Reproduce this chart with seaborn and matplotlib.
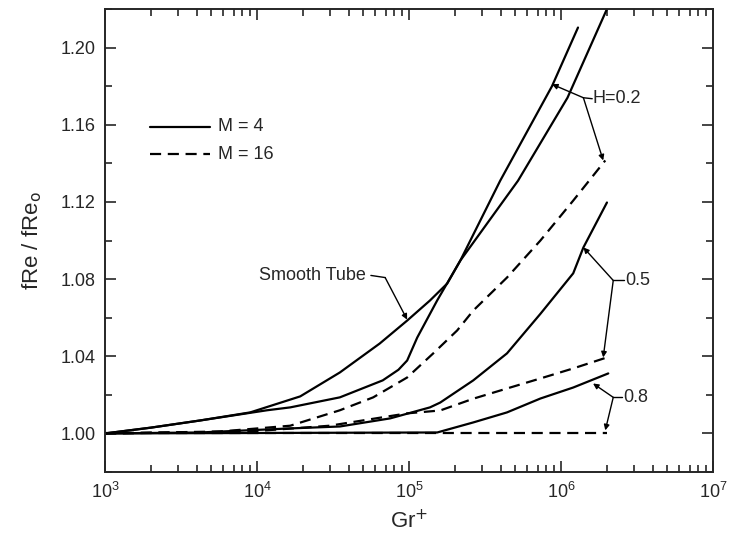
import numpy as np
import pandas as pd
import seaborn as sns
import matplotlib.pyplot as plt
from matplotlib.ticker import LogLocator, MultipleLocator

# curve data (x = Gr+, y = fRe/fRe0)
smooth_x = [1e3, 2.0e3, 4.2e3, 9.0e3, 1.92e4, 3.5e4, 6.4e4, 9.7e4, 1.37e5, 1.78e5, 2.17e5, 5.2e5, 1.1e6, 2.0e6]
smooth_y = [1.000, 1.003, 1.0067, 1.0109, 1.0192, 1.0316, 1.0466, 1.0585, 1.0689, 1.0777, 1.0896, 1.131, 1.174, 1.220]

h02_m4_x = [1e3, 2.0e3, 4.2e3, 1.16e4, 1.65e4, 3.5e4, 6.7e4, 8.5e4, 9.7e4, 1.13e5, 1.53e5, 2.17e5, 3.97e5, 8.7e5, 1.29e6]
h02_m4_y = [1.000, 1.003, 1.0067, 1.012, 1.0135, 1.0187, 1.0275, 1.033, 1.0378, 1.0497, 1.069, 1.0896, 1.131, 1.180, 1.2104]

h02_m16_x = [1e3, 5.7e3, 1.65e4, 3.5e4, 5.8e4, 9.7e4, 1.44e5, 2.07e5, 2.64e5, 4.4e5, 7.3e5, 1.2e6, 1.95e6]
h02_m16_y = [1.000, 1.001, 1.004, 1.012, 1.0187, 1.029, 1.0415, 1.0534, 1.0637, 1.0808, 1.100, 1.1207, 1.1415]

h05_m4_x = [1e3, 4.2e3, 1.65e4, 3.5e4, 7.5e4, 1.37e5, 1.6e5, 2.64e5, 4.4e5, 7.3e5, 1.2e6, 1.4e6, 2.0e6]
h05_m4_y = [1.000, 1.0005, 1.0026, 1.0036, 1.0078, 1.0135, 1.016, 1.0275, 1.0415, 1.062, 1.083, 1.0964, 1.1197]

h05_m16_x = [1e3, 9.0e3, 3.0e4, 9.7e4, 1.6e5, 2.64e5, 4.4e5, 7.3e5, 1.2e6, 2.0e6]
h05_m16_y = [1.000, 1.001, 1.004, 1.0104, 1.0119, 1.018, 1.0233, 1.0285, 1.0337, 1.0394]

h08_m4_x = [1e3, 1.53e5, 2.64e5, 4.4e5, 7.3e5, 1.2e6, 2.04e6]
h08_m4_y = [1.000, 1.0005, 1.0057, 1.0109, 1.0181, 1.0238, 1.0311]

h08_m16_x = [1e3, 2.0e6]
h08_m16_y = [1.000, 1.000]

sns.set_style("ticks")
plt.rcParams['font.family'] = ['Liberation Sans', 'DejaVu Sans']

fig = plt.figure(figsize=(7.3, 5.46), dpi=100)
ax = fig.add_axes([0.144, 0.1355, 0.833, 0.848])

curves = [
    (smooth_x, smooth_y, '-'),
    (h02_m4_x, h02_m4_y, '-'),
    (h02_m16_x, h02_m16_y, '--'),
    (h05_m4_x, h05_m4_y, '-'),
    (h05_m16_x, h05_m16_y, '--'),
    (h08_m4_x, h08_m4_y, '-'),
    (h08_m16_x, h08_m16_y, '--'),
]
for xs, ys, ls in curves:
    d = pd.DataFrame({'x': xs, 'y': ys})
    sns.lineplot(data=d, x='x', y='y', ax=ax, color='black', linewidth=1.6,
                 linestyle=ls, sort=False, estimator=None)
for l in ax.get_lines():
    if l.get_linestyle() == '--':
        l.set_dashes((5, 3))

ax.set_xscale('log')
ax.set_xlim(1e3, 1e7)
ax.set_ylim(0.98, 1.22)
ax.set_yticks([1.00, 1.04, 1.08, 1.12, 1.16, 1.20])
ax.set_yticklabels(['1.00', '1.04', '1.08', '1.12', '1.16', '1.20'])
ax.yaxis.set_minor_locator(MultipleLocator(0.02))
ax.xaxis.set_minor_locator(LogLocator(base=10, subs=np.arange(2, 10), numticks=20))
ax.tick_params(which='both', direction='in', top=True, right=True, width=1.2, labelsize=13)
ax.tick_params(which='major', length=8, pad=7)
ax.tick_params(which='minor', length=5)
for s in ax.spines.values():
    s.set_linewidth(1.4)

ax.set_xlabel('Gr$^{+}$', fontsize=16, labelpad=6)
ax.set_ylabel('fRe / fRe$_{\\mathrm{o}}$', fontsize=16, labelpad=12)

# legend drawn as in the original
ax.plot([1.98e3, 4.9e3], [1.159, 1.159], color='black', lw=1.6)
ax.plot([1.98e3, 4.9e3], [1.1446, 1.1446], color='black', lw=1.6, dashes=(5, 3))
ax.text(5.5e3, 1.159, 'M = 4', fontsize=13, va='center')
ax.text(5.5e3, 1.1446, 'M = 16', fontsize=13, va='center')

arr = dict(arrowstyle='-|>', color='black', lw=1.0, mutation_scale=8, shrinkA=0, shrinkB=0)

# H = 0.2
v = (1.4e6, 1.174)
ax.text(1.6e6, 1.1735, 'H=0.2', fontsize=13, va='center')
ax.plot([v[0], 1.6e6], [v[1], 1.1735], color='black', lw=1.0)
ax.annotate('', xy=(8.7e5, 1.181), xytext=v, arrowprops=arr)
ax.annotate('', xy=(1.89e6, 1.1415), xytext=v, arrowprops=arr)

# 0.5
v = (2.2e6, 1.0793)
ax.text(2.62e6, 1.0793, '0.5', fontsize=13, va='center')
ax.plot([v[0], 2.6e6], [v[1], v[1]], color='black', lw=1.0)
ax.annotate('', xy=(1.4e6, 1.0964), xytext=v, arrowprops=arr)
ax.annotate('', xy=(1.89e6, 1.0394), xytext=v, arrowprops=arr)

# 0.8
v = (2.2e6, 1.0187)
ax.text(2.55e6, 1.0187, '0.8', fontsize=13, va='center')
ax.plot([v[0], 2.53e6], [v[1], v[1]], color='black', lw=1.0)
ax.annotate('', xy=(1.62e6, 1.0259), xytext=v, arrowprops=arr)
ax.annotate('', xy=(1.95e6, 1.0016), xytext=v, arrowprops=arr)

# smooth tube
ax.text(5.2e4, 1.0819, 'Smooth Tube', fontsize=13, va='center', ha='right')
ax.plot([5.6e4, 6.95e4], [1.0819, 1.0808], color='black', lw=1.0)
ax.annotate('', xy=(9.7e4, 1.059), xytext=(6.95e4, 1.0808), arrowprops=arr)

fig.savefig('out.png', dpi=100)
